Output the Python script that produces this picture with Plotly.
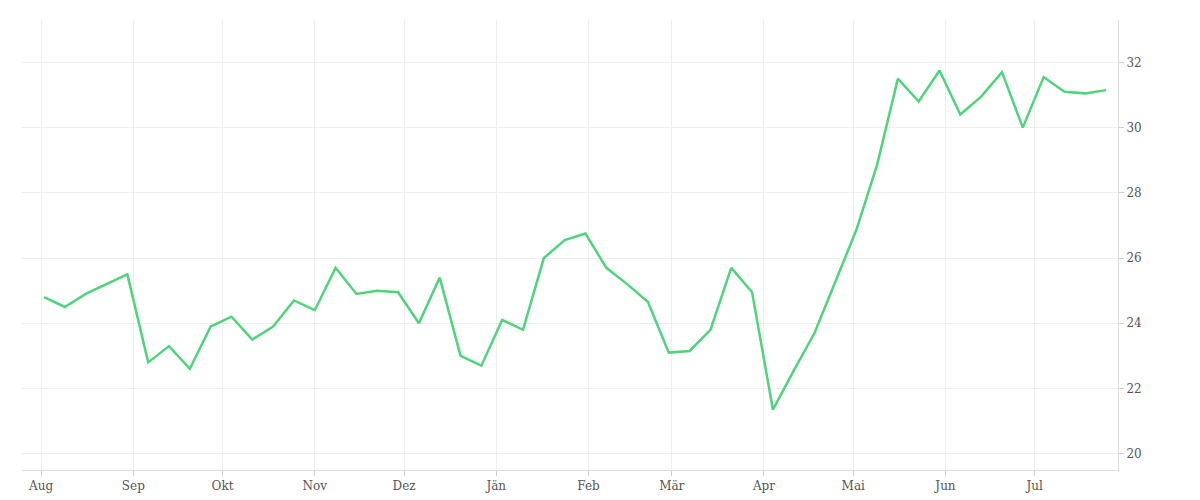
import pandas as pd
import plotly.graph_objects as go

start_date = "2020-08-02"
values = [24.8, 24.5, 24.9, 25.2, 25.5, 22.8, 23.3, 22.6, 23.9, 24.2, 23.5, 23.9,
          24.7, 24.4, 25.7, 24.9, 25.0, 24.95, 24.0, 25.4, 23.0, 22.7, 24.1, 23.8,
          26.0, 26.55, 26.75, 25.7, 25.2, 24.65, 23.1, 23.15, 23.8, 25.7, 24.95, 21.35,
          22.55, 23.7, 25.3, 26.85, 28.85, 31.5, 30.8, 31.75, 30.4, 30.95, 31.7, 30.0,
          31.55, 31.1, 31.05, 31.15]
month_ticks = ["2020-08-01", "2020-09-01", "2020-10-01", "2020-11-01", "2020-12-01", "2021-01-01",
               "2021-02-01", "2021-03-01", "2021-04-01", "2021-05-01", "2021-06-01", "2021-07-01"]
month_labels = ["Aug", "Sep", "Okt", "Nov", "Dez", "Jän", "Feb", "Mär", "Apr", "Mai", "Jun", "Jul"]

dates = pd.date_range(start_date, periods=len(values), freq="7D")

fig = go.Figure(go.Scatter(x=dates, y=values, mode="lines",
                           line=dict(color="#4fd47c", width=2.5)))
fig.update_layout(
    width=1200, height=500, showlegend=False,
    plot_bgcolor="white", paper_bgcolor="white",
    margin=dict(l=14, r=90, t=12, b=38),
    font=dict(family="DejaVu Serif", size=12, color="#555"),
)
fig.update_xaxes(range=["2020-07-25 14:00", "2021-07-29"], tickvals=month_ticks, ticktext=month_labels,
                 showgrid=True, gridcolor="#eeeeee", zeroline=False, ticks="outside",
                 tickcolor="#ccc", ticklen=5, showline=True, linecolor="#ddd")
fig.update_yaxes(range=[19.5, 33.3], side="right", dtick=2, showgrid=True, gridcolor="#eeeeee",
                 zeroline=False, ticks="outside", tickcolor="#ccc", ticklen=5,
                 showline=True, linecolor="#ddd")
fig.write_html("out.html")
